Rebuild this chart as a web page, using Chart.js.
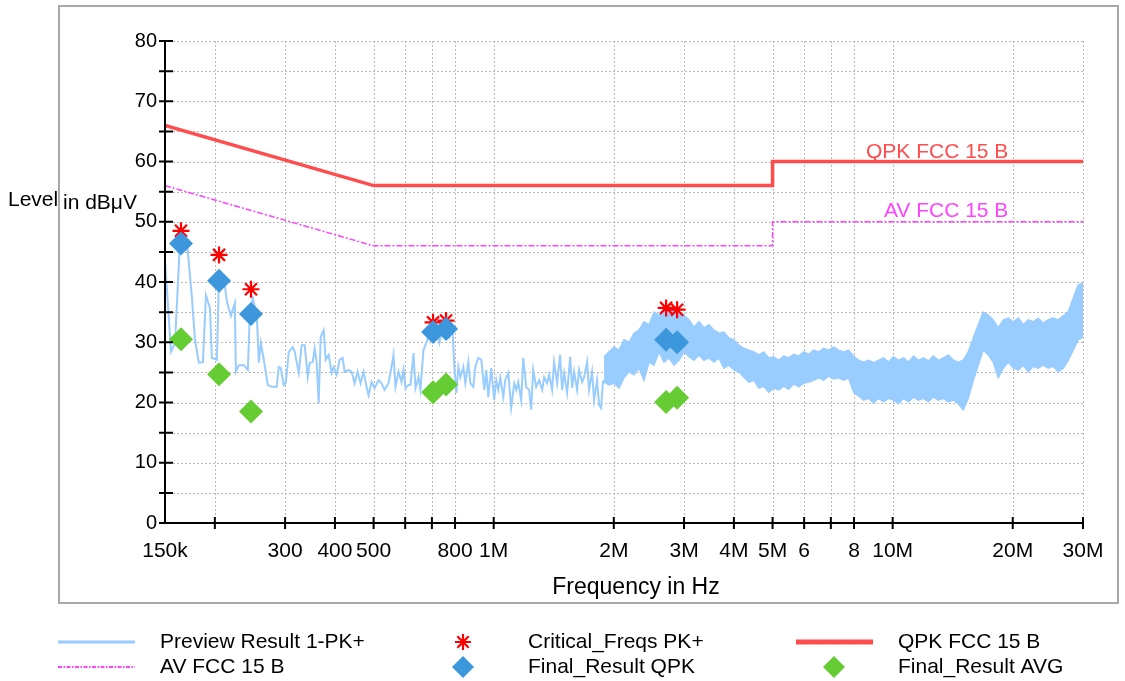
<!DOCTYPE html>
<html><head><meta charset="utf-8">
<script src="https://cdn.jsdelivr.net/npm/chart.js@4.4.1/dist/chart.umd.min.js"></script>
<style>html,body{margin:0;padding:0;background:#fff;}#wrap{width:1125px;height:681px;}</style>
</head><body><div id="wrap"><canvas id="c" width="1125" height="681"></canvas></div>
<script>
// ---- data ----
const traceFreqKHz = [150,155.3,158.9,163.5,170.3,175.2,178.3,182.4,186.7,190.0,
194.4,196.6,202.4,204.7,210.7,214.4,219.4,224.5,225.8,229.7,
236.4,242.0,244.8,249.0,254.8,257.8,260.8,265.3,271.5,277.8,
285.9,289.2,292.6,297.7,301.2,306.4,313.5,317.2,324.6,330.2,
336.0,341.8,345.8,351.8,355.9,360.0,364.2,368.4,374.8,379.2,
385.8,392.5,397.0,404.0,411.0,418.2,423.0,432.9,440.4,448.1,
455.9,463.8,471.9,480.1,485.7,494.2,502.8,514.5,523.5,532.6,
545.0,554.5,560.9,567.4,577.3,587.4,594.2,601.0,611.5,618.6,
629.4,636.6,647.7,655.2,666.7,682.2,694.1,706.2,718.5,731.0,
748.0,761.1,774.3,787.8,796.9,806.2,815.5,824.9,839.3,849.0,
863.8,873.8,889.0,899.3,915.0,930.9,947.2,958.1,969.2,986.1,
1003,1015,1027,1039,1057,1069,1088,1106,1126,1139,
1152,1172,1186,1206,1227,1241,1256,1278,1300,1323,
1338,1361,1377,1401,1417,1442,1467,1484,1502,1528,
1555,1573,1591,1618,1637,1666,1685,1714,1734,1764,
1785,1816,1837,1858,1880];
const traceLevel = [43.6,28.4,29.9,46.5,46.5,37.5,30.4,26.6,26.7,37.8,
35.7,27.4,27.1,40.3,40.8,36.7,34.4,36.5,25.1,26.2,
26.2,25.4,35.0,37.3,34.5,26.6,29.9,27.1,22.9,22.6,
22.6,25.9,25.7,22.9,23.2,28.4,29.2,28.4,24.9,29.5,
29.5,24.2,26.6,26.7,29.0,26.6,19.9,30.9,32.0,27.1,
27.9,24.9,25.9,24.6,27.1,27.4,25.1,25.4,25.1,23.2,
25.1,23.2,25.1,22.6,21.2,23.4,22.4,23.7,23.2,22.1,
23.2,25.9,27.9,22.6,25.1,23.4,25.4,22.4,22.9,22.9,
28.2,22.4,24.2,22.1,28.7,30.4,32.0,32.9,32.0,29.9,
33.2,31.7,30.9,32.5,25.9,21.6,25.9,24.2,25.9,23.2,
26.7,23.2,22.6,25.9,27.4,27.1,22.1,25.4,20.9,25.7,
20.4,23.7,22.1,24.1,20.9,23.7,24.9,19.1,23.2,22.1,
23.4,20.4,27.4,22.6,22.1,18.8,25.4,22.6,23.7,22.1,
24.2,23.2,24.6,22.1,26.7,23.2,27.9,22.1,24.9,21.6,
27.6,22.4,25.1,22.1,25.4,23.4,24.2,26.7,22.1,25.1,
20.4,23.7,19.6,19.1,23.7];
// dense part of the preview scan: upper / lower envelope of the trace
const bandFreqMHz = [1.891,1.946,2.003,2.062,2.122,2.184,2.248,2.313,2.381,2.451,
2.522,2.596,2.672,2.750,2.830,2.913,2.999,3.087,3.177,3.270,
3.365,3.464,3.565,3.669,3.776,3.887,4.000,4.117,4.238,4.362,
4.489,4.620,4.752,4.891,5.034,5.181,5.333,5.489,5.649,5.814,
5.984,6.159,6.339,6.524,6.715,6.911,7.113,7.321,7.534,7.754,
7.980,8.214,8.454,8.701,8.955,9.217,9.486,9.764,10.05,10.34,
10.65,10.96,11.28,11.61,11.94,12.29,12.65,13.02,13.40,13.79,
14.20,14.61,15.03,15.47,15.93,16.39,16.87,17.36,17.87,18.39,
18.94,19.49,20.06,20.65,21.25,21.87,22.51,23.17,23.84,24.54,
25.26,26.00,26.76,27.54,28.34,29.17,30.0];
const bandUpper = [27.6,28.4,29.2,28.7,30.4,30.0,31.5,32.0,33.4,32.9,
35.0,34.5,35.7,35.0,36.0,35.0,34.5,33.7,32.5,33.4,
32.4,32.9,32.0,31.5,31.7,30.7,30.4,29.5,29.0,28.7,
28.4,27.9,28.4,27.4,27.6,27.0,27.7,27.4,28.0,27.7,
28.4,28.0,28.7,28.4,29.0,28.7,29.2,28.7,28.4,28.7,
27.7,27.0,26.7,27.0,26.6,27.0,27.4,26.7,27.6,27.0,
27.4,26.7,27.7,27.0,27.4,26.9,27.7,27.0,27.4,27.9,
27.0,26.7,27.0,28.4,30.7,32.9,35.0,34.5,33.7,32.4,
33.7,34.0,33.4,34.0,32.9,33.7,33.4,34.0,33.2,33.7,
34.0,33.7,34.4,35.0,37.3,39.5,39.8];
const bandLower = [23.4,22.9,23.2,22.4,24.1,25.1,24.6,25.7,23.7,26.7,
26.2,28.4,26.7,27.4,26.2,27.0,28.4,27.6,27.0,27.9,
27.0,27.4,26.7,27.4,25.7,26.2,25.4,25.1,24.2,23.4,
23.7,22.4,22.7,21.7,22.4,22.1,22.7,22.2,23.1,22.6,
23.2,23.4,23.7,24.1,23.7,24.4,23.9,24.1,23.7,24.1,
21.7,21.1,20.4,20.7,19.9,20.7,20.1,20.7,20.4,19.8,
20.7,20.1,20.9,20.4,20.7,20.1,20.9,20.4,20.7,20.1,
20.4,19.8,18.8,20.7,23.7,26.2,28.7,27.9,26.7,24.1,
25.7,26.7,25.7,25.4,26.2,25.1,26.0,25.7,26.2,25.7,
26.0,25.1,25.7,27.0,28.7,30.4,30.9];
const limitFreqMHz = [0.15, 0.5, 5, 5, 30];
const qpkLimit = [66, 56, 56, 60, 60];
const avLimit  = [56, 46, 46, 50, 50];
const markerFreqKHz = [164.5, 204.9, 246.4, 704.6, 759.5, 2705, 2882];
const critLevel = [48.5, 44.5, 38.8, 33.3, 33.6, 35.7, 35.4];
const qpkLevel  = [46.4, 40.2, 34.7, 31.7, 32.2, 30.4, 30.0];
const avgLevel  = [30.5, 24.7, 18.5, 21.7, 23.0, 20.1, 20.8];
const yLabelTicks = [0, 10, 20, 30, 40, 50, 60, 70, 80];
const yMinorTicks = [5, 15, 25, 35, 45, 55, 65, 75];
const xGridFreqs = [200e3,300e3,400e3,500e3,600e3,700e3,800e3,1e6,2e6,3e6,4e6,5e6,6e6,7e6,8e6,10e6,20e6,30e6];
const xLabelFreqs = [150e3,300e3,400e3,500e3,800e3,1e6,2e6,3e6,4e6,5e6,6e6,8e6,10e6,20e6,30e6];
const xLabelTexts = ['150k','300','400','500','800','1M','2M','3M','4M','5M','6','8','10M','20M','30M'];

// ---- build ----
const xy = (fs, vs, m) => fs.map((f, i) => ({x: f * m, y: vs[i]}));
const FONT = '"Liberation Sans", Arial, sans-serif';
const C_TRACE = '#99ccff', C_QPKL = '#ff4d4d', C_AVL = '#ff44ff', C_CRIT = '#ff0000', C_QPK = '#3d97dd', C_AVG = '#66cc33';

function diamond(ctx, x, y, r, color){
  ctx.beginPath(); ctx.moveTo(x - r, y); ctx.lineTo(x, y - r); ctx.lineTo(x + r, y); ctx.lineTo(x, y + r); ctx.closePath();
  ctx.fillStyle = color; ctx.fill();
}
function star(ctx, x, y, r, color){
  ctx.beginPath(); ctx.strokeStyle = color; ctx.lineWidth = 2.2;
  for (let k = 0; k < 4; k++) { const a = k * Math.PI / 4; const dx = Math.cos(a) * r, dy = Math.sin(a) * r;
    ctx.moveTo(x - dx, y - dy); ctx.lineTo(x + dx, y + dy); }
  ctx.stroke();
}

const deco = {
  id: 'deco',
  beforeDraw(chart){
    const ctx = chart.ctx; ctx.save();
    ctx.fillStyle = '#fff'; ctx.fillRect(0, 0, chart.width, chart.height);
    ctx.strokeStyle = '#a8a8a8'; ctx.lineWidth = 2; ctx.strokeRect(59, 6, 1059, 597);
    ctx.restore();
  },
  beforeDatasetsDraw(chart){
    const {ctx, chartArea: a, scales: {x, y}} = chart; ctx.save();
    ctx.strokeStyle = '#b8b8b8'; ctx.lineWidth = 1; ctx.setLineDash([2, 2]);
    ctx.beginPath();
    [...yMinorTicks, ...yLabelTicks.filter(v => v > 0)].forEach(v => { const p = Math.round(y.getPixelForValue(v)) + 0.5; ctx.moveTo(a.left, p); ctx.lineTo(a.right, p); });
    xGridFreqs.forEach(f => { const p = Math.round(x.getPixelForValue(f)) + 0.5; ctx.moveTo(p, a.top); ctx.lineTo(p, a.bottom); });
    ctx.stroke(); ctx.restore();
  },
  afterDatasetsDraw(chart){
    const {ctx, chartArea: a, scales: {x, y}} = chart; ctx.save();
    // limit labels
    ctx.font = '21px ' + FONT; ctx.textAlign = 'right'; ctx.textBaseline = 'alphabetic';
    const lx = x.getPixelForValue(19.5e6);
    [['QPK FCC 15 B', 60, 4, C_QPKL], ['AV FCC 15 B', 50, 5, C_AVL]].forEach(([t, v, off, col]) => {
      const w = ctx.measureText(t).width, by = y.getPixelForValue(v) - off;
      ctx.fillStyle = 'rgba(255,255,255,0.6)'; ctx.fillRect(lx - w - 2, by - 18, w + 4, 20);
      ctx.fillStyle = col; ctx.fillText(t, lx, by);
    });
    // axes
    ctx.strokeStyle = '#000'; ctx.lineWidth = 2; ctx.beginPath();
    ctx.moveTo(a.left, a.top); ctx.lineTo(a.left, a.bottom); ctx.lineTo(a.right, a.bottom);
    [...yLabelTicks, ...yMinorTicks].forEach(v => { const p = y.getPixelForValue(v); ctx.moveTo(a.left - 6, p); ctx.lineTo(a.left + 8, p); });
    xGridFreqs.forEach(f => { const p = x.getPixelForValue(f); ctx.moveTo(p, a.bottom - 6); ctx.lineTo(p, a.bottom + 6); });
    ctx.stroke();
    ctx.fillStyle = '#000'; ctx.font = '20px ' + FONT; ctx.textAlign = 'right'; ctx.textBaseline = 'middle';
    yLabelTicks.forEach(v => ctx.fillText(String(v), a.left - 8, y.getPixelForValue(v)));
    ctx.font = '21px ' + FONT; ctx.textAlign = 'center';
    xLabelFreqs.forEach((f, i) => ctx.fillText(xLabelTexts[i], x.getPixelForValue(f), a.bottom + 28));
    ctx.font = '23px ' + FONT; ctx.fillText('Frequency in Hz', 636, 588);
    ctx.font = '21px ' + FONT; ctx.textAlign = 'left'; ctx.textBaseline = 'alphabetic';
    ctx.fillText('Level', 8, 206); ctx.fillText('in dB\u03bcV', 63, 209);
    // legend
    const r1 = 642, r2 = 667;
    ctx.lineWidth = 3; ctx.strokeStyle = C_TRACE; ctx.beginPath(); ctx.moveTo(58, r1); ctx.lineTo(135, r1); ctx.stroke();
    ctx.lineWidth = 2; ctx.strokeStyle = C_AVL; ctx.setLineDash([4, 1.5, 1.5, 1.5]); ctx.beginPath(); ctx.moveTo(58, r2); ctx.lineTo(135, r2); ctx.stroke(); ctx.setLineDash([]);
    ctx.lineWidth = 5; ctx.strokeStyle = C_QPKL; ctx.beginPath(); ctx.moveTo(796, r1); ctx.lineTo(873, r1); ctx.stroke();
    star(ctx, 463, r1, 8, C_CRIT);
    diamond(ctx, 463, r2, 11, C_QPK);
    diamond(ctx, 834, r2, 11, C_AVG);
    ctx.fillStyle = '#000'; ctx.font = '21px ' + FONT; ctx.textBaseline = 'middle'; ctx.textAlign = 'left';
    ctx.fillText('Preview Result 1-PK+', 160, r1); ctx.fillText('AV FCC 15 B', 160, r2);
    ctx.fillText('Critical_Freqs PK+', 528, r1); ctx.fillText('Final_Result QPK', 528, r2);
    ctx.fillText('QPK FCC 15 B', 898, r1); ctx.fillText('Final_Result AVG', 898, r2);
    ctx.restore();
  }
};

new Chart(document.getElementById('c'), {
  type: 'line',
  data: { datasets: [
    {label: 'Final_Result QPK', data: xy(markerFreqKHz, qpkLevel, 1e3), showLine: false, pointStyle: 'rectRot', pointRadius: 12, pointBorderWidth: 0, pointBackgroundColor: C_QPK, pointBorderColor: C_QPK, order: 0},
    {label: 'Final_Result AVG', data: xy(markerFreqKHz, avgLevel, 1e3), showLine: false, pointStyle: 'rectRot', pointRadius: 12, pointBorderWidth: 0, pointBackgroundColor: C_AVG, pointBorderColor: C_AVG, order: 1},
    {label: 'Critical_Freqs PK+', data: xy(markerFreqKHz, critLevel, 1e3), showLine: false, pointStyle: 'star', pointRadius: 8.5, pointBorderWidth: 2.2, pointBorderColor: C_CRIT, pointBackgroundColor: C_CRIT, order: 2},
    {label: 'QPK FCC 15 B', data: xy(limitFreqMHz, qpkLimit, 1e6), borderColor: C_QPKL, borderWidth: 3.5, pointRadius: 0, order: 3},
    {label: 'AV FCC 15 B', data: xy(limitFreqMHz, avLimit, 1e6), borderColor: C_AVL, borderWidth: 1.5, borderDash: [6, 2, 2, 2], pointRadius: 0, order: 4},
    {label: 'Preview Result 1-PK+', data: xy(traceFreqKHz, traceLevel, 1e3), borderColor: C_TRACE, borderWidth: 2, pointRadius: 0, order: 5},
    {label: 'band upper', data: xy(bandFreqMHz, bandUpper, 1e6), borderColor: C_TRACE, backgroundColor: C_TRACE, borderWidth: 1.5, pointRadius: 0, fill: '+1', order: 6},
    {label: 'band lower', data: xy(bandFreqMHz, bandLower, 1e6), borderColor: C_TRACE, borderWidth: 1.5, pointRadius: 0, fill: false, order: 7}
  ]},
  options: {
    responsive: false, animation: false,
    layout: {padding: {left: 165, right: 42, top: 41, bottom: 158}},
    elements: {line: {tension: 0}},
    plugins: {legend: {display: false}, tooltip: {enabled: false}},
    scales: {
      x: {type: 'logarithmic', min: 150e3, max: 30e6, display: false},
      y: {type: 'linear', min: 0, max: 80, display: false}
    }
  },
  plugins: [deco]
});
</script></body></html>
